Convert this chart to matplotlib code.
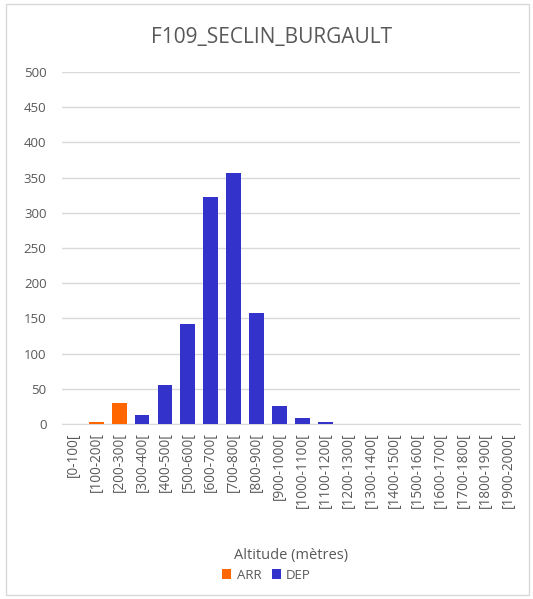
import matplotlib
matplotlib.use("Agg")

import matplotlib.pyplot as plt
from matplotlib.patches import Rectangle

categories = [f"[{i * 100}-{(i + 1) * 100}[" for i in range(20)]
arr_values = [0, 3, 30, 0, 0, 0, 0, 0, 0, 0, 0, 0, 0, 0, 0, 0, 0, 0, 0, 0]
dep_values = [0, 0, 0, 13, 55, 142, 322, 356, 157, 25, 8, 3, 0, 0, 0, 0, 0, 0, 0, 0]

ARR_COLOR = "#FF6600"
DEP_COLOR = "#3333CC"
TEXT_COLOR = "#595959"

plt.rcParams["font.family"] = ["Open Sans", "DejaVu Sans"]

fig = plt.figure(figsize=(5.33, 5.99), dpi=100)
fig.patches.append(Rectangle((0.012, 0.006), 0.98, 0.988, transform=fig.transFigure,
                             fill=False, edgecolor="#D9D9D9", linewidth=1))
ax = fig.add_axes([0.116, 0.292, 0.86, 0.588])

x = range(len(categories))
ax.bar(x, arr_values, width=0.65, color=ARR_COLOR, label="ARR", zorder=3)
ax.bar(x, dep_values, width=0.65, bottom=arr_values, color=DEP_COLOR, label="DEP", zorder=3)

ax.set_ylim(0, 500)
ax.set_xlim(-0.5, len(categories) - 0.5)
ax.set_yticks(range(0, 501, 50))
ax.set_xticks(list(x))
ax.set_xticklabels(categories, rotation=90, fontsize=9.8, color=TEXT_COLOR)
ax.tick_params(axis="y", labelsize=9.5, labelcolor=TEXT_COLOR, length=0, pad=11)
ax.tick_params(axis="x", length=0, pad=6)
ax.grid(axis="y", color="#D9D9D9", linewidth=1, zorder=0)
for side in ["top", "right", "left"]:
    ax.spines[side].set_visible(False)
ax.spines["bottom"].set_color("#D9D9D9")

ax.set_xlabel("Altitude (mètres)", fontsize=10.5, color=TEXT_COLOR, labelpad=29)
fig.text(0.51, 0.937, "F109_SECLIN_BURGAULT", ha="center", va="center",
         fontsize=15, color=TEXT_COLOR)

fig.legend(loc="center", bbox_to_anchor=(0.5, 0.04), ncol=2, frameon=False,
           fontsize=9.5, labelcolor=TEXT_COLOR, handlelength=0.7, handleheight=0.7,
           handletextpad=0.4, columnspacing=0.8)

fig.savefig("out.png", dpi=100)
